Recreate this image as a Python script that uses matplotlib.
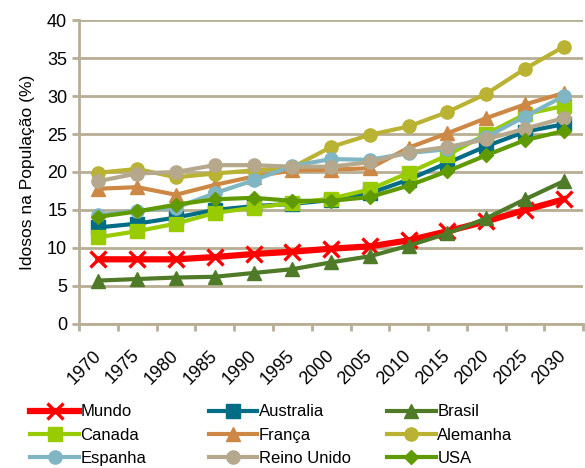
import numpy as np
import matplotlib.pyplot as plt
from matplotlib.transforms import ScaledTranslation

plt.rcParams['font.family'] = ['Liberation Sans', 'DejaVu Sans']

# anos (eixo x)
anos = ['1970', '1975', '1980', '1985', '1990', '1995', '2000',
        '2005', '2010', '2015', '2020', '2025', '2030']

# percentual de idosos por país
mundo = [8.5, 8.5, 8.5, 8.8, 9.2, 9.5, 9.9, 10.2, 11.0, 12.2, 13.5, 15.0, 16.4]
australia = [12.7, 13.2, 14.0, 15.0, 15.5, 15.8, 16.3, 17.2, 19.0, 21.2, 23.4, 25.3, 26.3]
brasil = [5.7, 5.9, 6.1, 6.2, 6.7, 7.2, 8.1, 8.9, 10.3, 11.9, 13.9, 16.4, 18.8]
canada = [11.4, 12.2, 13.2, 14.6, 15.3, 15.9, 16.5, 17.7, 19.9, 22.2, 25.0, 27.6, 28.7]
franca = [17.8, 18.0, 17.0, 18.3, 19.4, 20.2, 20.3, 20.5, 23.2, 25.1, 27.1, 28.9, 30.4]
alemanha = [19.9, 20.4, 19.3, 19.8, 20.2, 20.6, 23.3, 24.9, 26.0, 27.9, 30.3, 33.6, 36.5]
espanha = [14.3, 14.9, 15.3, 17.2, 18.9, 20.8, 21.7, 21.6, 22.5, 23.0, 24.6, 27.3, 30.0]
reino_unido = [18.8, 19.8, 20.0, 20.9, 20.9, 20.7, 20.7, 21.3, 22.6, 23.3, 24.3, 25.7, 27.1]
usa = [14.1, 14.8, 15.7, 16.4, 16.6, 16.2, 16.2, 16.7, 18.2, 20.1, 22.2, 24.2, 25.4]

series = [
    ('Mundo', mundo, '#FF0000', 'x'),
    ('Australia', australia, '#006D86', 's'),
    ('Brasil', brasil, '#4F7A28', '^'),
    ('Canada', canada, '#99CC00', 's'),
    ('França', franca, '#CC8844', '^'),
    ('Alemanha', alemanha, '#B9B232', 'o'),
    ('Espanha', espanha, '#80B6C4', 'o'),
    ('Reino Unido', reino_unido, '#B5A88C', 'o'),
    ('USA', usa, '#5F9A00', 'D'),
]

grid_color = '#B8AE94'

fig = plt.figure(figsize=(5.85, 4.68), dpi=100)
ax = fig.add_axes([0.135, 0.308, 0.862, 0.649])

x = np.arange(len(anos))
handles = []
for nome, vals, cor, mk in series:
    if mk == 'x':
        h, = ax.plot(x, vals, color=cor, lw=4.5, marker='x', ms=11, mew=2.4,
                     label=nome, clip_on=False)
    else:
        ms = 7.5 if mk == 'D' else 9.5
        h, = ax.plot(x, vals, color=cor, lw=3, marker=mk, ms=ms,
                     mec=cor, label=nome, clip_on=False)
    handles.append(h)

ax.set_xlim(-0.5, len(anos) - 0.5)
ax.set_ylim(0, 40)
ax.set_yticks(range(0, 41, 5))
ax.set_xticks(x)
ax.set_xticklabels(anos, rotation=45, ha='right', va='center',
                   rotation_mode='anchor')
shift = ScaledTranslation(-9 / 100, 0, fig.dpi_scale_trans)
for lbl in ax.get_xticklabels():
    lbl.set_transform(lbl.get_transform() + shift)
ax.set_xticks(np.arange(-0.5, len(anos)), minor=True)
ax.tick_params(axis='x', which='major', length=0, labelsize=13, pad=21)
ax.tick_params(axis='x', which='minor', length=5, width=2, color=grid_color)
ax.tick_params(axis='y', length=5, width=2, color=grid_color, labelsize=13)

ax.grid(axis='y', color=grid_color, lw=2)
ax.set_axisbelow(True)
for s in ['top', 'right']:
    ax.spines[s].set_visible(False)
for s in ['left', 'bottom']:
    ax.spines[s].set_color(grid_color)
    ax.spines[s].set_linewidth(2)

ax.set_ylabel('Idosos na População (%)', fontsize=12.5, labelpad=9)

# legenda em três colunas
col_x = [0.052, 0.357, 0.662]
for j in range(3):
    leg = fig.legend(handles=handles[j::3], loc='upper left',
                     bbox_to_anchor=(col_x[j], 0.136), frameon=False,
                     fontsize=12, handlelength=2.9, handletextpad=0.1,
                     labelspacing=0.5, borderaxespad=0, borderpad=0)

fig.savefig('out.png', dpi=100)
